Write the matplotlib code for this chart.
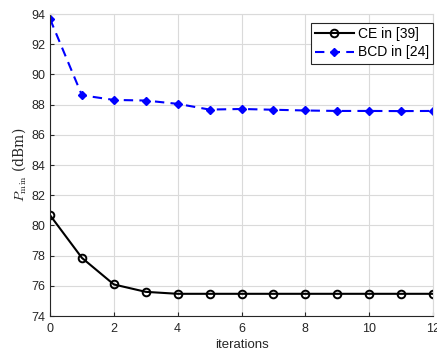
import matplotlib.pyplot as plt
import numpy as np

# values
iters = np.arange(0, 13)
ce_vals = [80.68, 77.85, 76.09, 75.6, 75.47, 75.47, 75.47, 75.47, 75.47, 75.47, 75.47, 75.47, 75.47]
bcd_vals = [93.68, 88.62, 88.31, 88.27, 88.05, 87.67, 87.71, 87.66, 87.61, 87.58, 87.58, 87.57, 87.58]
x_ticks = [0, 2, 4, 6, 8, 10, 12]
y_ticks = [74, 76, 78, 80, 82, 84, 86, 88, 90, 92, 94]

plt.rcParams['font.family'] = ['Liberation Sans', 'DejaVu Sans']
plt.rcParams['mathtext.fontset'] = 'cm'

fig = plt.figure(figsize=(4.37, 3.51), dpi=100)
ax = fig.add_axes([0.1144, 0.0997, 0.8765, 0.8604])

ax.plot(iters, ce_vals, '-o', color='k', lw=1.5, ms=5.5, mfc='none', mew=1.4, label='CE in [39]')
ax.plot(iters, bcd_vals, '--D', color='b', lw=1.5, ms=4, mew=1, label='BCD in [24]', dashes=(4.5, 3))

ax.set_xlim(0, 12)
ax.set_ylim(74, 94)
ax.set_xticks(x_ticks)
ax.set_yticks(y_ticks)
ax.tick_params(labelsize=9, colors='#262626', length=3, direction='in', width=0.8)
ax.tick_params(axis='x', pad=5)
ax.grid(True, color='#dadada', lw=0.8)
ax.set_axisbelow(True)
for s in ['left', 'bottom']:
    ax.spines[s].set_color('#262626')
    ax.spines[s].set_linewidth(0.8)
for s in ['top', 'right']:
    ax.spines[s].set_color('#dadada')
    ax.spines[s].set_linewidth(0.8)

ax.set_xlabel('iterations', fontsize=9.5, color='#262626', labelpad=3)
ax.set_ylabel(r'$P_{\min}$ (dBm)', fontsize=10, color='#262626', family='serif', labelpad=2)

leg = ax.legend(loc='upper right', bbox_to_anchor=(1.0, 0.97), fontsize=10, fancybox=False,
                framealpha=1, edgecolor='#262626', borderpad=0.3, handlelength=2.8,
                handletextpad=0.3, labelspacing=0.3, borderaxespad=0)
leg.get_frame().set_linewidth(0.8)

fig.savefig('out.png', dpi=100)
